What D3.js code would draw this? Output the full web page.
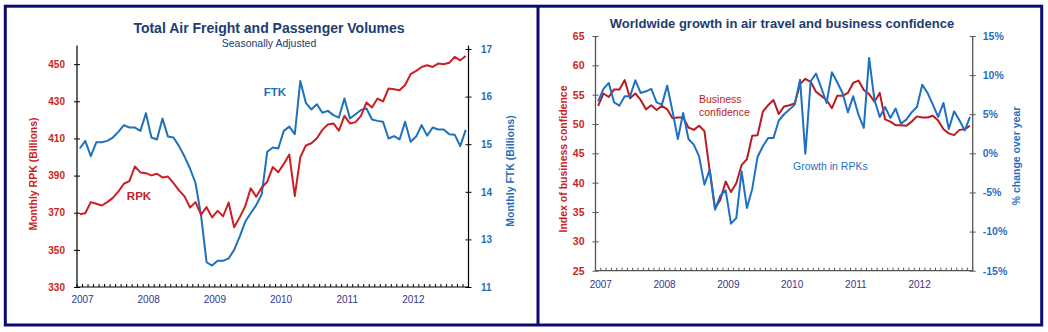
<!DOCTYPE html>
<html>
<head>
<meta charset="utf-8">
<script src="https://cdn.jsdelivr.net/npm/d3@7"></script>
<style>
  body { margin: 0; background: #fff; }
  svg { display: block; font-family: "Liberation Sans", Arial, sans-serif; }
</style>
</head>
<body>
<svg id="chart" width="1048" height="332"></svg>
<script>
// monthly data, Jan 2007 .. Nov 2012
const months = d3.utcMonths(new Date(Date.UTC(2007, 0, 1)), new Date(Date.UTC(2012, 11, 1)));
const yearFmt = d3.utcFormat("%Y");

// left chart: RPK (billions) and FTK (billions)
const rpk = [369.2, 369.7, 375.7, 374.8, 373.9, 375.7, 378.0, 381.4, 385.6, 387.0, 394.9, 391.7,
  391.3, 390.1, 391.0, 389.0, 389.5, 385.9, 382.0, 378.8, 372.8, 375.7, 369.0, 373.0,
  367.5, 371.0, 368.1, 375.5, 362.2, 367.5, 373.5, 383.1, 378.6, 383.6, 386.7, 394.6,
  391.8, 396.3, 401.3, 379.0, 399.9, 406.2, 407.4, 410.1, 414.6, 417.5, 418.1, 414.2,
  422.2, 418.1, 418.8, 422.2, 429.4, 426.7, 431.5, 429.9, 436.9, 436.5, 436.0, 438.8,
  444.6, 446.4, 448.5, 449.4, 448.5, 450.3, 450.0, 450.8, 453.9, 452.1, 454.4];
const ftk = [14.91, 15.07, 14.75, 15.04, 15.04, 15.07, 15.14, 15.26, 15.40, 15.35, 15.35, 15.28,
  15.65, 15.14, 15.10, 15.54, 15.16, 15.14, 14.96, 14.74, 14.49, 14.18, 13.50, 12.52,
  12.45, 12.55, 12.55, 12.60, 12.78, 13.06, 13.37, 13.55, 13.72, 13.95, 14.84, 14.93,
  14.91, 15.28, 15.37, 15.21, 16.33, 15.87, 15.73, 15.84, 15.66, 15.70, 15.61, 15.56,
  15.96, 15.54, 15.63, 15.72, 15.75, 15.52, 15.49, 15.47, 15.12, 15.17, 15.10, 15.47,
  15.05, 15.16, 15.40, 15.18, 15.35, 15.31, 15.31, 15.21, 15.20, 14.96, 15.30];
const rpkTicks = [330, 350, 370, 390, 410, 430, 450];
const ftkTicks = [12, 13, 14, 15, 16, 17];
const ftkTickLabels = ["11", "13", "14", "15", "16", "17"];

// right chart: business confidence index and RPK growth (% yoy)
const confidence = [53.1, 55.2, 54.6, 55.9, 55.9, 57.5, 54.4, 55.2, 54.1, 52.5, 53.2, 52.4,
  53.1, 52.5, 51.0, 51.1, 51.1, 49.4, 49.0, 49.7, 48.8, 42.0, 35.6, 37.1,
  40.2, 38.4, 39.9, 43.0, 44.0, 48.0, 48.1, 52.1, 53.2, 54.1, 51.7, 53.0,
  53.2, 53.5, 56.8, 57.7, 57.2, 55.5, 54.8, 54.1, 52.7, 54.8, 54.8, 55.3,
  57.0, 57.4, 55.8, 55.1, 53.8, 55.3, 50.8, 50.4, 49.8, 49.8, 49.7, 50.4,
  51.3, 51.1, 51.1, 51.4, 50.6, 49.1, 48.4, 48.1, 49.0, 49.1, 49.7];
const growth = [6.65, 8.24, 9.0, 6.52, 6.1, 7.29, 7.29, 9.34, 7.72, 7.93, 8.24, 6.52,
  6.23, 8.66, 5.37, 1.84, 5.16, 1.84, 1.11, -0.38, -4.0, -2.08, -7.2, -5.41,
  -4.73, -8.99, -8.27, -2.3, -6.98, -4.55, -0.46, 0.9, 1.97, 1.97, 4.2, 5.0,
  5.59, 6.23, 9.42, -0.04, 9.21, 10.19, 8.36, 6.44, 10.36, 9.08, 7.72, 5.24,
  7.29, 4.95, 3.25, 12.2, 6.87, 4.65, 5.93, 4.53, 5.72, 3.8, 4.31, 5.24,
  5.93, 8.78, 7.72, 6.23, 4.65, 6.44, 3.12, 5.37, 4.22, 2.94, 4.65];
const confTicks = [25, 30, 35, 40, 45, 50, 55, 60, 65];
const growthTicks = [-15, -10, -5, 0, 5, 10, 15];

const navy = "#203d70";
const yearColor = "#35358a";

const svg = d3.select("#chart");

// panel frames
svg.append("rect")
  .attr("x", 5.3).attr("y", 6.2).attr("width", 1036.4).attr("height", 318.8)
  .attr("fill", "none").attr("stroke", "#0b0b70").attr("stroke-width", 3);
svg.append("line")
  .attr("x1", 538).attr("x2", 538).attr("y1", 6.2).attr("y2", 325)
  .attr("stroke", "#0b0b70").attr("stroke-width", 3);

const janMonths = months.filter(d => d.getUTCMonth() === 0);

function monthAxis(g, x, y0, color, pad) {
  // monthly ticks between categories
  const edges = months.map(d => x(d)).concat([x.range()[1]]);
  g.append("g").selectAll("line")
    .data(edges)
    .join("line")
      .attr("x1", d => d).attr("x2", d => d)
      .attr("y1", y0 - 3).attr("y2", y0)
      .attr("stroke", color).attr("stroke-width", 1);
  g.append("line")
    .attr("x1", x.range()[0]).attr("x2", x.range()[1])
    .attr("y1", y0).attr("y2", y0)
    .attr("stroke", color).attr("stroke-width", 1.2);
  g.append("g")
    .attr("transform", `translate(${x.bandwidth() / 2},${y0})`)
    .call(d3.axisBottom(x).tickValues(janMonths).tickFormat(yearFmt).tickSize(0).tickPadding(pad))
    .call(a => a.select(".domain").remove())
    .call(a => a.selectAll("text")
      .attr("fill", yearColor).style("font-size", "10px"));
}

// ---------- left chart ----------
{
  const x0 = 77, x1 = 468.5, yb = 287;
  const x = d3.scaleBand().domain(months).range([x0, x1]);
  const cx = d => x(d) + x.bandwidth() / 2;
  const yL = d3.scaleLinear().domain([330, 460]).range([yb, 45.6]);
  const yR = d3.scaleLinear().domain([12, 17]).range([yb, 49]);
  const g = svg.append("g");

  g.append("text").attr("x", 269).attr("y", 33).attr("text-anchor", "middle")
    .attr("fill", navy).style("font-size", "14px").style("font-weight", "bold")
    .text("Total Air Freight and Passenger Volumes");
  g.append("text").attr("x", 269).attr("y", 47).attr("text-anchor", "middle")
    .attr("fill", navy).style("font-size", "10.5px")
    .text("Seasonally Adjusted");

  // axis lines
  g.append("line").attr("x1", x0).attr("x2", x0).attr("y1", yL(460)).attr("y2", yb)
    .attr("stroke", "#000").attr("stroke-width", 1.2);
  g.append("line").attr("x1", x1).attr("x2", x1).attr("y1", yL(460)).attr("y2", yb)
    .attr("stroke", "#000").attr("stroke-width", 1.2);

  g.append("g").attr("transform", `translate(${x0},0)`)
    .call(d3.axisLeft(yL).tickValues(rpkTicks).tickSize(3).tickPadding(9))
    .call(a => a.select(".domain").remove())
    .call(a => a.selectAll(".tick line").attr("x1", 3).attr("stroke", "#000"))
    .call(a => a.selectAll("text").attr("fill", "#cc1f24")
      .style("font-size", "10px").style("font-weight", "bold"));

  g.append("g").attr("transform", `translate(${x1},0)`)
    .call(d3.axisRight(yR).tickValues(ftkTicks).tickFormat((d, i) => ftkTickLabels[i])
      .tickSize(3).tickPadding(9.5))
    .call(a => a.select(".domain").remove())
    .call(a => a.selectAll(".tick line").attr("x1", -3).attr("stroke", "#000"))
    .call(a => a.selectAll("text").attr("fill", "#1f6fb8")
      .style("font-size", "10px").style("font-weight", "bold"));

  monthAxis(g, x, yb, "#000", 9);

  g.append("text").attr("transform", "translate(37,174) rotate(-90)")
    .attr("text-anchor", "middle").attr("fill", "#cc1f24")
    .style("font-size", "10.5px").style("font-weight", "bold")
    .text("Monthly RPK (Billions)");
  g.append("text").attr("transform", "translate(514,171) rotate(-90)")
    .attr("text-anchor", "middle").attr("fill", "#1f6fb8")
    .style("font-size", "10.5px").style("font-weight", "bold")
    .text("Monthly FTK (Billions)");

  g.append("path").datum(ftk)
    .attr("fill", "none").attr("stroke", "#1f72b8").attr("stroke-width", 2)
    .attr("stroke-linejoin", "round")
    .attr("d", d3.line().x((d, i) => cx(months[i])).y(d => yR(d)));
  g.append("path").datum(rpk)
    .attr("fill", "none").attr("stroke", "#cc1f24").attr("stroke-width", 2)
    .attr("stroke-linejoin", "round")
    .attr("d", d3.line().x((d, i) => cx(months[i])).y(d => yL(d)));

  g.append("text").attr("x", 139).attr("y", 200).attr("text-anchor", "middle")
    .attr("fill", "#c0222a").style("font-size", "11.5px").style("font-weight", "bold").text("RPK");
  g.append("text").attr("x", 275).attr("y", 96).attr("text-anchor", "middle")
    .attr("fill", "#1f6fb8").style("font-size", "11.5px").style("font-weight", "bold").text("FTK");
}

// ---------- right chart ----------
{
  const x0 = 595.5, x1 = 972.7, yb = 270.7, yt = 36;
  const x = d3.scaleBand().domain(months).range([x0, x1]);
  const cx = d => x(d) + x.bandwidth() / 2;
  const yL = d3.scaleLinear().domain([25, 65]).range([yb, yt]);
  const yR = d3.scaleLinear().domain([-15, 15]).range([yb, yt]);
  const g = svg.append("g");
  const axisColor = "#555";

  g.append("text").attr("x", 782).attr("y", 28).attr("text-anchor", "middle")
    .attr("fill", navy).style("font-size", "13px").style("font-weight", "bold")
    .text("Worldwide growth in air travel and business confidence");

  g.append("line").attr("x1", x0).attr("x2", x0).attr("y1", yt).attr("y2", yb)
    .attr("stroke", axisColor).attr("stroke-width", 1.3);
  g.append("line").attr("x1", x1).attr("x2", x1).attr("y1", yt).attr("y2", yb)
    .attr("stroke", axisColor).attr("stroke-width", 1.3);

  g.append("g").attr("transform", `translate(${x0},0)`)
    .call(d3.axisLeft(yL).tickValues(confTicks).tickSize(3).tickPadding(8))
    .call(a => a.select(".domain").remove())
    .call(a => a.selectAll(".tick line").attr("x1", 3).attr("stroke", axisColor))
    .call(a => a.selectAll("text").attr("fill", "#cc1f24")
      .style("font-size", "10.5px").style("font-weight", "bold"));

  g.append("g").attr("transform", `translate(${x1},0)`)
    .call(d3.axisRight(yR).tickValues(growthTicks).tickFormat(d => d + "%")
      .tickSize(3).tickPadding(7))
    .call(a => a.select(".domain").remove())
    .call(a => a.selectAll(".tick line").attr("x1", -3).attr("stroke", axisColor))
    .call(a => a.selectAll("text").attr("fill", "#1f6fc4")
      .style("font-size", "10.5px").style("font-weight", "bold"));

  monthAxis(g, x, yb, axisColor, 10);

  g.append("text").attr("transform", "translate(567,159) rotate(-90)")
    .attr("text-anchor", "middle").attr("fill", "#cc1f24")
    .style("font-size", "10.5px").style("font-weight", "bold")
    .text("Index of business confidence");
  g.append("text").attr("transform", "translate(1020,156) rotate(-90)")
    .attr("text-anchor", "middle").attr("fill", "#1f6fc4")
    .style("font-size", "10.5px").style("font-weight", "bold")
    .text("% change over year");

  g.append("path").datum(confidence)
    .attr("fill", "none").attr("stroke", "#b81c22").attr("stroke-width", 2)
    .attr("stroke-linejoin", "round")
    .attr("d", d3.line().x((d, i) => cx(months[i])).y(d => yL(d)));
  g.append("path").datum(growth)
    .attr("fill", "none").attr("stroke", "#1f6fc4").attr("stroke-width", 2)
    .attr("stroke-linejoin", "round")
    .attr("d", d3.line().x((d, i) => cx(months[i])).y(d => yR(d)));

  const bc = g.append("text").attr("fill", "#b81c22").style("font-size", "10.5px");
  bc.append("tspan").attr("x", 699).attr("y", 103).text("Business");
  bc.append("tspan").attr("x", 699).attr("y", 116).text("confidence");
  g.append("text").attr("x", 793).attr("y", 170).attr("fill", "#1f6fc4")
    .style("font-size", "10.5px").text("Growth in RPKs");
}
</script>
</body>
</html>
